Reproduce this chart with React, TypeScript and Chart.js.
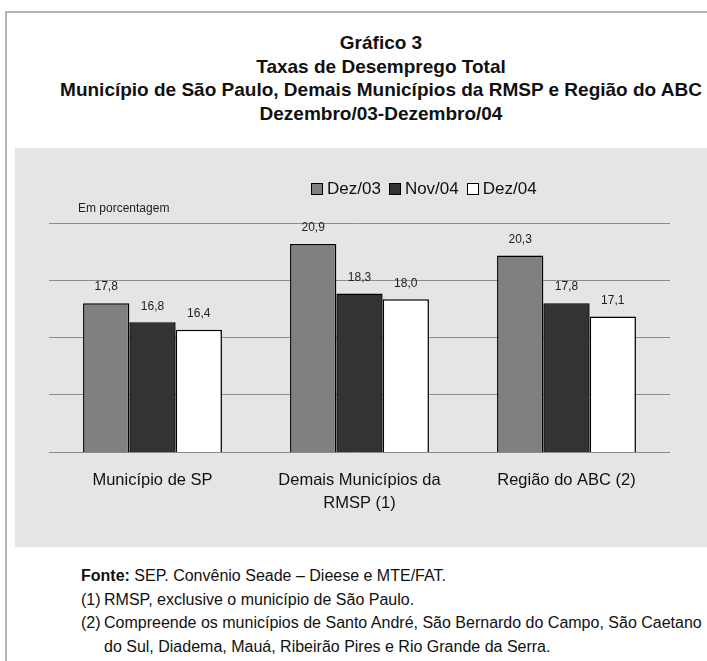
import React, { useEffect, useRef } from "react";
import { Chart, registerables } from "chart.js";

Chart.register(...registerables);

const categories: (string | string[])[] = [
  "Município de SP",
  ["Demais Municípios da", "RMSP (1)"],
  "Região do ABC (2)",
];
const seriesLabels = ["Dez/03", "Nov/04", "Dez/04"];
const dez03 = [17.8, 20.9, 20.3];
const nov04 = [16.8, 18.3, 17.8];
const dez04 = [16.4, 18.0, 17.1];
const seriesColors = ["#808080", "#333333", "#ffffff"];
const yMin = 10;
const yMax = 22;
const yStep = 3;

const titleLines = [
  "Gráfico 3",
  "Taxas de Desemprego Total",
  "Município de São Paulo, Demais Municípios da RMSP e Região do ABC",
  "Dezembro/03-Dezembro/04",
];

const FONT = '"Liberation Sans", Arial, sans-serif';

const valueLabels = {
  id: "valueLabels",
  afterDatasetsDraw(chart: any) {
    const ctx = chart.ctx;
    ctx.save();
    ctx.font = `12px ${FONT}`;
    ctx.fillStyle = "#222";
    ctx.textAlign = "center";
    ctx.textBaseline = "middle";
    chart.data.datasets.forEach((ds: any, i: number) => {
      const meta = chart.getDatasetMeta(i);
      meta.data.forEach((bar: any, j: number) => {
        const v = ds.data[j] as number;
        ctx.fillText(v.toFixed(1).replace(".", ","), bar.x, bar.y - 16);
      });
    });
    ctx.restore();
  },
};

export default function App() {
  const ref = useRef<HTMLCanvasElement>(null);

  useEffect(() => {
    if (!ref.current) return;
    const chart = new Chart(ref.current, {
      type: "bar",
      data: {
        labels: categories,
        datasets: [dez03, nov04, dez04].map((d, i) => ({
          label: seriesLabels[i],
          data: d,
          backgroundColor: seriesColors[i],
          borderColor: "#000",
          borderWidth: 1.5,
          borderSkipped: false,
          barPercentage: 1,
          categoryPercentage: 0.671,
        })),
      },
      options: {
        responsive: false,
        animation: false,
        layout: { padding: { top: 75, right: 37, left: 0, bottom: 0 } },
        plugins: {
          legend: { display: false },
          tooltip: { enabled: false },
        },
        scales: {
          x: {
            grid: { display: false },
            border: { display: false },
            ticks: {
              color: "#111",
              font: { family: FONT, size: 16.5, lineHeight: 1.45 },
              padding: 8,
              maxRotation: 0,
              autoSkip: false,
            },
            afterFit: (s: any) => {
              s.height = 95;
            },
          },
          y: {
            min: yMin,
            max: yMax,
            ticks: { display: false, stepSize: yStep },
            grid: { color: "#8c8c8c", lineWidth: 1, drawTicks: false },
            border: { display: false },
            afterFit: (s: any) => {
              s.width = 34;
            },
          },
        },
      },
      plugins: [valueLabels],
    });
    return () => chart.destroy();
  }, []);

  const legendItem = (i: number) => (
    <span key={i} style={{ display: "inline-flex", alignItems: "center", marginRight: 8 }}>
      <span
        style={{
          display: "inline-block",
          width: 10,
          height: 10,
          background: seriesColors[i],
          border: "1px solid #000",
          marginRight: 4,
        }}
      />
      <span>{seriesLabels[i]}</span>
    </span>
  );

  return (
    <div
      style={{
        position: "absolute",
        left: 0,
        top: 0,
        width: 707,
        height: 661,
        overflow: "hidden",
        background: "#fff",
        fontFamily: FONT,
      }}
    >
      {/* frame */}
      <div
        style={{
          position: "absolute",
          left: 5,
          top: 11,
          width: 800,
          height: 700,
          borderLeft: "2px solid #b4b4b4",
          borderTop: "2px solid #b4b4b4",
        }}
      />
      {/* title */}
      <div
        style={{
          position: "absolute",
          left: 4,
          top: 31,
          width: 754,
          textAlign: "center",
          fontWeight: "bold",
          fontSize: 19,
          lineHeight: "23.5px",
          color: "#111",
        }}
      >
        {titleLines.map((t, i) => (
          <div key={i}>{t}</div>
        ))}
      </div>
      {/* panel */}
      <div
        style={{
          position: "absolute",
          left: 15,
          top: 148,
          width: 692,
          height: 399,
          background: "#e5e5e5",
        }}
      >
        <canvas ref={ref} width={692} height={399} style={{ display: "block" }} />
        <div
          style={{
            position: "absolute",
            left: 296,
            top: 31,
            fontSize: 17,
            color: "#111",
            whiteSpace: "nowrap",
            display: "flex",
            alignItems: "center",
          }}
        >
          {seriesLabels.map((_, i) => legendItem(i))}
        </div>
        <div
          style={{
            position: "absolute",
            left: 63,
            top: 53,
            fontSize: 12,
            color: "#222",
            whiteSpace: "nowrap",
          }}
        >
          Em porcentagem
        </div>
      </div>
      {/* notes */}
      <div
        style={{
          position: "absolute",
          left: 81,
          top: 564,
          fontSize: 16,
          lineHeight: "23.5px",
          color: "#111",
          whiteSpace: "nowrap",
        }}
      >
        <div>
          <b>Fonte:</b> SEP. Convênio Seade – Dieese e MTE/FAT.
        </div>
        <div style={{ display: "flex" }}>
          <span style={{ width: 23, flexShrink: 0 }}>(1)</span>
          <span>RMSP, exclusive o município de São Paulo.</span>
        </div>
        <div style={{ display: "flex" }}>
          <span style={{ width: 23, flexShrink: 0 }}>(2)</span>
          <span>
            Compreende os municípios de Santo André, São Bernardo do Campo, São Caetano
            <br />
            do Sul, Diadema, Mauá, Ribeirão Pires e Rio Grande da Serra.
          </span>
        </div>
      </div>
    </div>
  );
}
